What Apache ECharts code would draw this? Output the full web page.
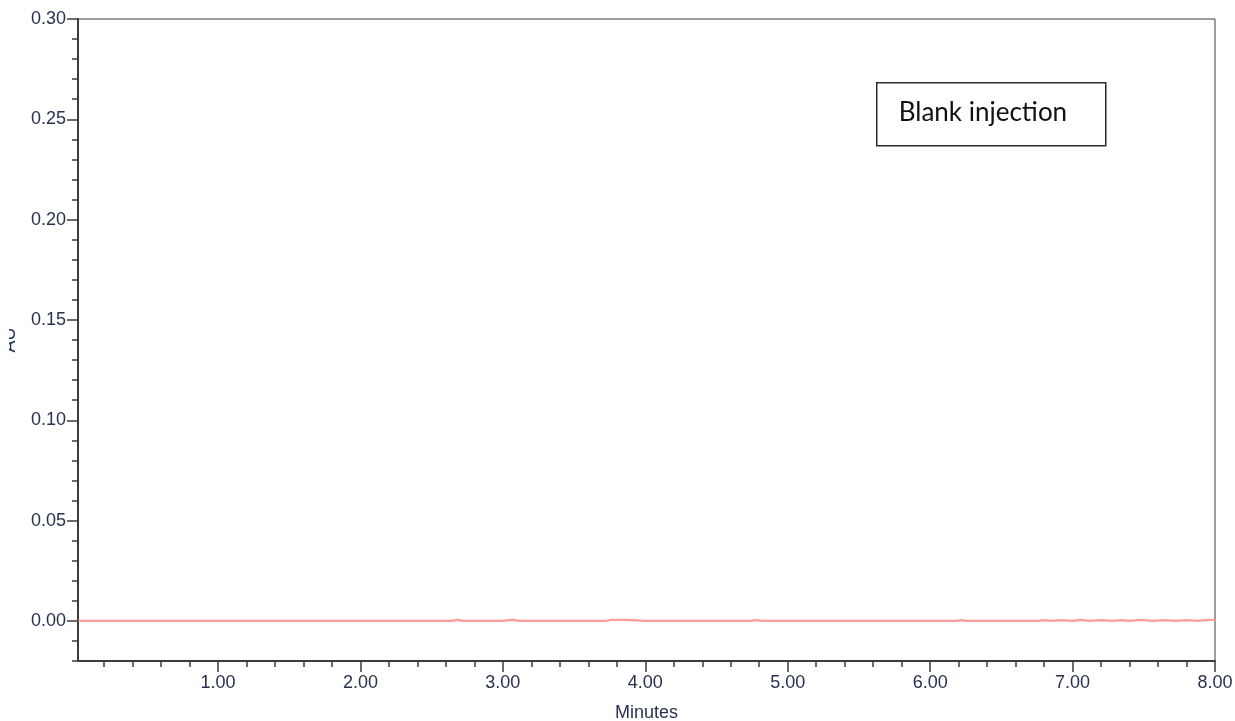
<!DOCTYPE html>
<html>
<head>
<meta charset="utf-8">
<title>Blank injection chromatogram</title>
<script src="https://cdn.jsdelivr.net/npm/echarts@6/dist/echarts.min.js"></script>
<style>
  html, body { margin: 0; padding: 0; background: #ffffff; }
  #chart { width: 1235px; height: 721px; }
</style>
</head>
<body>
<div id="chart"></div>
<script>
// Retention time (min) and detector response (AU) of the blank run
const minutes = [0.02, 0.50, 1.00, 1.50, 2.00, 2.50, 2.64, 2.68, 2.72, 2.76, 3.00, 3.04, 3.08, 3.12, 3.50, 3.72, 3.76, 3.84, 3.90, 4.00, 4.50, 4.74, 4.78, 4.82, 5.20, 5.60, 6.00, 6.18, 6.22, 6.26, 6.60, 6.76, 6.80, 6.86, 6.92, 7.00, 7.06, 7.12, 7.20, 7.28, 7.34, 7.40, 7.48, 7.56, 7.64, 7.72, 7.80, 7.88, 7.96, 8.00];
const absorbance = [0.0000, 0.0000, 0.0000, 0.0000, 0.0000, 0.0000, 0.0000, 0.0005, 0.0000, 0.0000, 0.0000, 0.0004, 0.0004, 0.0000, 0.0000, 0.0000, 0.0005, 0.0005, 0.0004, 0.0000, 0.0000, 0.0000, 0.0004, 0.0000, 0.0000, 0.0000, 0.0000, 0.0000, 0.0004, 0.0000, 0.0000, 0.0000, 0.0004, 0.0000, 0.0004, 0.0000, 0.0005, 0.0000, 0.0004, 0.0000, 0.0004, 0.0000, 0.0005, 0.0000, 0.0004, 0.0000, 0.0004, 0.0000, 0.0005, 0.0005];

// Axis tick labels
const yTickLabels = ['0.00', '0.05', '0.10', '0.15', '0.20', '0.25', '0.30'];
const xTickLabels = ['1.00', '2.00', '3.00', '4.00', '5.00', '6.00', '7.00', '8.00'];

const sampleName = 'Blank injection';

// Time window shown on the x axis (run starts a hair after zero)
const xStart = 0.017;
const xEnd = 8;

const textColor = '#28324f';
const axisColor = '#3c3c3c';
const tickFont = 'Liberation Sans, Arial, sans-serif';

const yMajor = yTickLabels.map(Number);
const xMajor = xTickLabels.map(Number);

// minor time ticks every 0.2 min
const xMinor = [];
for (let k = 1; k < 40; k++) xMinor.push(Math.round(k * 0.2 * 10) / 10);

const chart = echarts.init(document.getElementById('chart'), null, { renderer: 'canvas' });

const option = {
  animation: false,
  backgroundColor: '#ffffff',
  grid: {
    left: 78, top: 19, right: 20, bottom: 60,
    outerBoundsMode: 'none', containLabel: false,
    show: true, borderColor: axisColor, borderWidth: 1, backgroundColor: 'transparent'
  },
  xAxis: [
    {
      type: 'value', position: 'bottom', min: xStart, max: xEnd,
      name: 'Minutes', nameLocation: 'middle', nameGap: 43,
      nameTextStyle: { color: textColor, fontSize: 18, fontFamily: tickFont },
      axisLine: { show: true, onZero: false, lineStyle: { color: axisColor, width: 2 } },
      axisTick: { show: true, customValues: xMajor, length: 11, lineStyle: { color: axisColor, width: 1.5 } },
      axisLabel: {
        customValues: xMajor, margin: 13, color: textColor, fontSize: 18, fontFamily: tickFont,
        formatter: v => xTickLabels[xMajor.indexOf(v)] ?? ''
      },
      splitLine: { show: false }
    },
    {
      type: 'value', position: 'bottom', min: xStart, max: xEnd,
      axisLine: { show: false, onZero: false },
      axisTick: { show: true, customValues: xMinor, length: 6, lineStyle: { color: axisColor, width: 1.5 } },
      axisLabel: { show: false },
      splitLine: { show: false }
    }
  ],
  yAxis: [
    {
      type: 'value', position: 'left', min: -0.02, max: 0.30,
      name: 'AU', nameLocation: 'middle', nameGap: 59, nameRotate: 90,
      nameTextStyle: { color: '#1d2a5e', fontSize: 18, fontFamily: tickFont },
      axisLine: { show: true, onZero: false, lineStyle: { color: axisColor, width: 2 } },
      axisTick: { show: true, customValues: yMajor, length: 11, lineStyle: { color: axisColor, width: 1.5 } },
      axisLabel: {
        customValues: yMajor, margin: 12, color: textColor, fontSize: 18, fontFamily: tickFont,
        formatter: v => yTickLabels[yMajor.indexOf(v)] ?? ''
      },
      splitLine: { show: false }
    },
    {
      // minor ticks every 0.01 AU
      type: 'value', position: 'left', min: -0.02, max: 0.30, interval: 0.01,
      axisLine: { show: false, onZero: false },
      axisTick: { show: true, length: 6, lineStyle: { color: axisColor, width: 1.5 } },
      axisLabel: { show: false },
      splitLine: { show: false }
    }
  ],
  series: [
    {
      type: 'line',
      xAxisIndex: 0, yAxisIndex: 0,
      data: minutes.map((t, i) => [t, absorbance[i]]),
      showSymbol: false,
      smooth: false,
      lineStyle: { color: '#ff9c9c', width: 2.4 },
      silent: true
    }
  ],
  graphic: [
    {
      // the page edge cuts into the axis title
      type: 'rect', left: 0, top: 300, z: 100,
      shape: { width: 9, height: 90 },
      style: { fill: '#ffffff' }
    },
    {
      type: 'group', left: 876, top: 82,
      children: [
        {
          type: 'rect',
          shape: { x: 0, y: 0, width: 229, height: 63 },
          style: { fill: '#ffffff', stroke: '#2a2a2a', lineWidth: 1.5 }
        },
        {
          type: 'text', x: 22, y: 30,
          style: {
            text: sampleName, fill: '#111111',
            font: '26px Lato, "Open Sans", sans-serif',
            textVerticalAlign: 'middle'
          }
        }
      ]
    }
  ]
};

chart.setOption(option);
</script>
</body>
</html>
